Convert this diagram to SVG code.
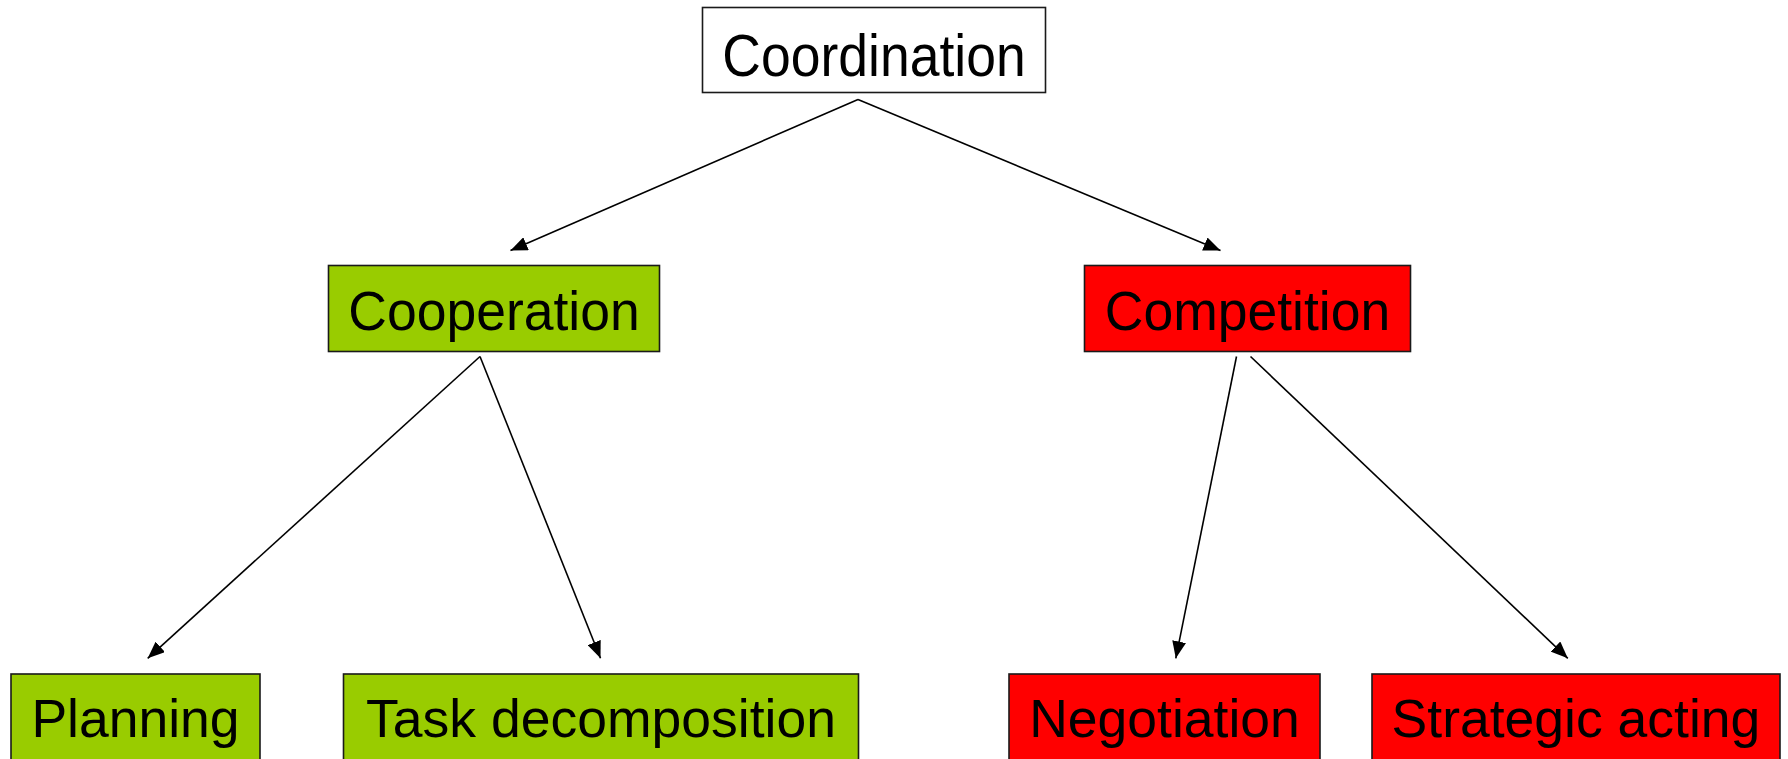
<svg xmlns="http://www.w3.org/2000/svg" width="1788" height="759" viewBox="0 0 1788 759">
<style>
rect.box{stroke:#1a1a1a;stroke-width:1.6}
.white{fill:#ffffff}
.green{fill:#99cc00}
.red{fill:#ff0000}
text{font-family:"Liberation Sans",Arial,sans-serif;font-size:53.5px;fill:#000;text-anchor:middle}
.conn line{stroke:#000;stroke-width:1.6;marker-end:url(#arr)}
</style>
<defs>
<marker id="arr" markerUnits="userSpaceOnUse" markerWidth="18" markerHeight="14" refX="17" refY="7" orient="auto">
<path d="M0,0 L17,7 L0,14 z" fill="#000"/>
</marker>
</defs>
<rect width="1788" height="759" fill="#fff"/>
<g class="conn" id="connectors">
<line x1="858" y1="99.5" x2="510.5" y2="250.5"/>
<line x1="858" y1="99.5" x2="1220.5" y2="250.5"/>
<line x1="480" y1="356.5" x2="147.7" y2="658.3"/>
<line x1="480" y1="356.5" x2="600.5" y2="658.3"/>
<line x1="1236.5" y1="356.5" x2="1175.8" y2="658.3"/>
<line x1="1250.5" y1="356.5" x2="1567.8" y2="658.3"/>
</g>
<g id="coordination">
<rect class="box white" x="702.5" y="7.5" width="343" height="85"/>
<text transform="translate(874,76) scale(1,1.1)">Coordination</text>
</g>
<g id="cooperation">
<rect class="box green" x="328.5" y="265.5" width="331" height="86"/>
<text transform="translate(494,329.5) scale(1,1.04)">Cooperation</text>
</g>
<g id="competition">
<rect class="box red" x="1084.5" y="265.5" width="326" height="86"/>
<text transform="translate(1247.5,329.5) scale(1,1.04)">Competition</text>
</g>
<g id="planning">
<rect class="box green" x="11" y="674" width="249" height="86"/>
<text x="135.5" y="737">Planning</text>
</g>
<g id="task-decomposition">
<rect class="box green" x="343.5" y="674" width="515" height="86"/>
<text x="601" y="737">Task decomposition</text>
</g>
<g id="negotiation">
<rect class="box red" x="1009" y="674" width="311" height="86"/>
<text x="1164.5" y="737">Negotiation</text>
</g>
<g id="strategic-acting">
<rect class="box red" x="1372" y="674" width="408" height="86"/>
<text x="1576" y="737">Strategic acting</text>
</g>
</svg>
